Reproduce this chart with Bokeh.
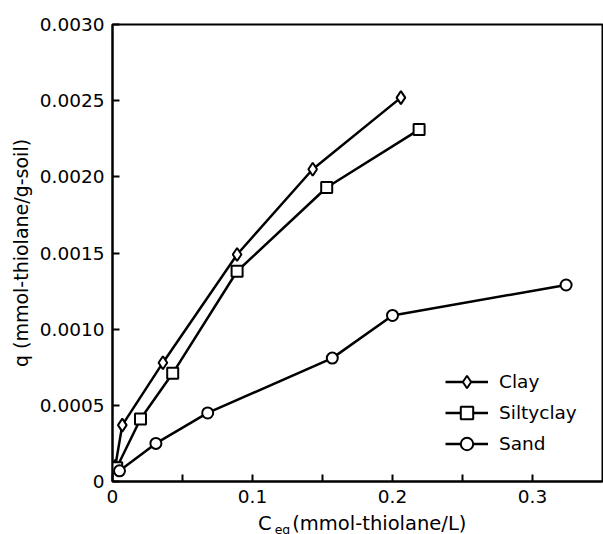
from bokeh.plotting import figure
from bokeh.layouts import column
from bokeh.models import Range1d, FixedTicker, CustomJSTickFormatter, Div
from bokeh.embed import file_html
from bokeh.resources import INLINE

# ---- data ----
clay_x = [0.002, 0.007, 0.036, 0.089, 0.143, 0.206]
clay_y = [0.00010, 0.00037, 0.00078, 0.00149, 0.00205, 0.00252]

silty_x = [0.003, 0.020, 0.043, 0.089, 0.153, 0.219]
silty_y = [0.00009, 0.00041, 0.00071, 0.00138, 0.00193, 0.00231]

sand_x = [0.005, 0.031, 0.068, 0.157, 0.200, 0.324]
sand_y = [0.00007, 0.00025, 0.00045, 0.00081, 0.00109, 0.00129]

x_major_ticks = [0, 0.1, 0.2, 0.3]
x_minor_ticks = [0.05, 0.15, 0.25]
y_major_ticks = [0, 0.0005, 0.0010, 0.0015, 0.0020, 0.0025, 0.0030]

x_label_main = "C"
x_label_sub = "eq"
x_label_rest = "(mmol-thiolane/L)"
y_label = "q (mmol-thiolane/g-soil)"

FONT = "DejaVu Sans"
W = 603
MAIN_H = 513
LABEL_H = 21

p = figure(width=W, height=MAIN_H, output_backend="svg", toolbar_location=None,
           x_range=Range1d(0, 0.35), y_range=Range1d(0, 0.003),
           min_border_left=112, min_border_right=1, min_border_top=24, min_border_bottom=MAIN_H - 481)

p.grid.visible = False
p.outline_line_color = "black"
p.outline_line_width = 2
p.background_fill_color = "white"
p.border_fill_color = "white"

for ax in (p.xaxis[0], p.yaxis[0]):
    ax.axis_line_width = 2
    ax.axis_line_color = "black"
    ax.major_tick_in = 7
    ax.major_tick_out = 0
    ax.major_tick_line_width = 2
    ax.minor_tick_in = 7
    ax.minor_tick_out = 0
    ax.minor_tick_line_width = 2
    ax.major_label_text_font = FONT
    ax.major_label_text_font_size = "18.5px"
    ax.major_label_text_color = "black"

p.xaxis.ticker = FixedTicker(ticks=x_major_ticks, minor_ticks=x_minor_ticks)
p.yaxis.ticker = FixedTicker(ticks=y_major_ticks, minor_ticks=[])
p.xaxis.formatter = CustomJSTickFormatter(code="return tick == 0 ? '0' : tick.toFixed(1);")
p.yaxis.formatter = CustomJSTickFormatter(code="return tick == 0 ? '0' : tick.toFixed(4);")
p.xaxis.major_label_standoff = 8
p.yaxis.major_label_standoff = 8

p.yaxis.axis_label = y_label
p.yaxis.axis_label_text_font = FONT
p.yaxis.axis_label_text_font_size = "19px"
p.yaxis.axis_label_text_font_style = "normal"
p.yaxis.axis_label_text_color = "black"
p.yaxis.axis_label_standoff = 5

LW = 2.5
p.line(clay_x, clay_y, line_color="black", line_width=LW, legend_label="Clay")
p.scatter(clay_x, clay_y, marker="diamond", size=13,
          fill_color="white", line_color="black", line_width=2, legend_label="Clay")

p.line(silty_x, silty_y, line_color="black", line_width=LW, legend_label="Siltyclay")
p.scatter(silty_x, silty_y, marker="square", size=11,
          fill_color="white", line_color="black", line_width=2, legend_label="Siltyclay")

p.line(sand_x, sand_y, line_color="black", line_width=LW, legend_label="Sand")
p.scatter(sand_x, sand_y, marker="circle", size=11,
          fill_color="white", line_color="black", line_width=2, legend_label="Sand")

lg = p.legend[0]
lg.location = (333, 22)
lg.padding = 0
lg.margin = 0
lg.spacing = 0
lg.border_line_color = None
lg.background_fill_alpha = 0
lg.glyph_width = 43
lg.glyph_height = 31
lg.label_height = 31
lg.label_standoff = 11
lg.label_text_font = FONT
lg.label_text_font_size = "18.5px"
lg.label_text_color = "black"

# ---- x-axis title with subscript, as a text strip directly under the plot ----
html = (
    f'<div style="font-family:\'{FONT}\'; font-size:19.5px; line-height:21px; color:black; '
    f'white-space:nowrap; padding-left:258px;">'
    f'<span>{x_label_main}</span>'
    f'<span style="font-size:12.5px; position:relative; top:4px; margin-left:3px;">{x_label_sub}</span>'
    f'<span style="margin-left:2px;">{x_label_rest}</span>'
    f'</div>'
)
label_div = Div(text=html, width=W, height=LABEL_H, margin=(0, 0, 0, 0),
                styles={"margin": "0", "padding": "0", "overflow": "visible"})

layout = column(p, label_div, spacing=0)
open("out.html", "w").write(file_html(layout, INLINE))
